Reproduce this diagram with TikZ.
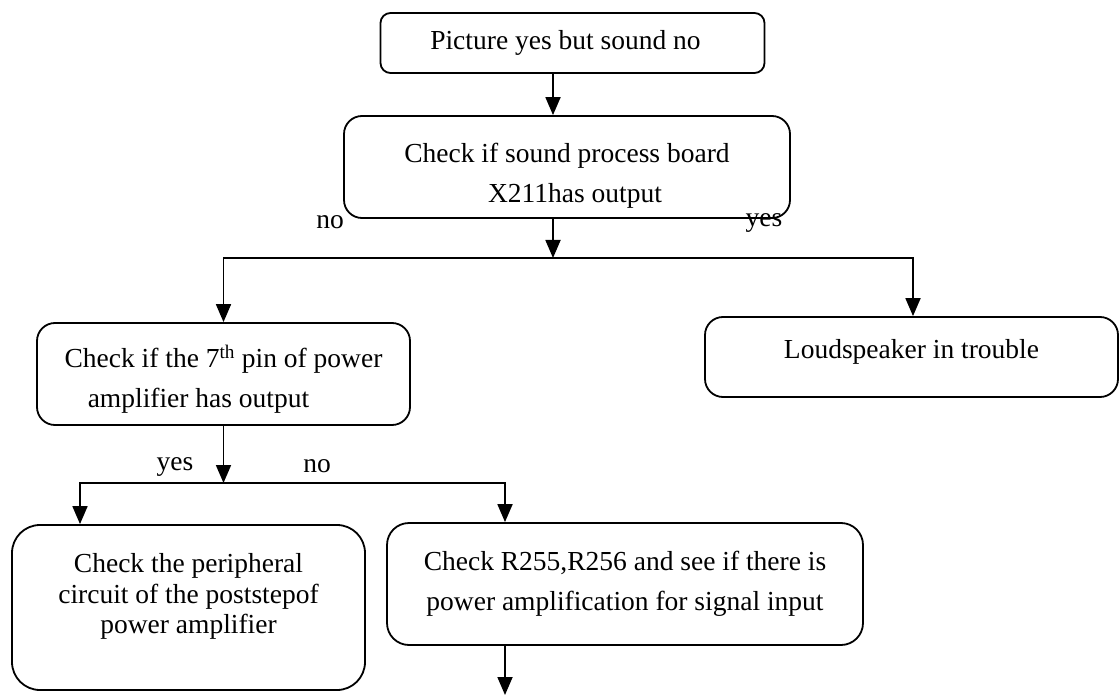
\documentclass[tikz,border=0pt]{standalone}
\usepackage{fontspec}
\setmainfont{Liberation Serif}
\usetikzlibrary{arrows.meta}
\begin{document}
\begin{tikzpicture}[x=1pt,y=-1pt,
  box/.style={draw=black, line width=1.8pt, inner sep=0pt},
  txt/.style={inner sep=0pt, align=center, font=\fontsize{27.5}{40}\selectfont},
  arr/.style={line width=1.8pt, -{Triangle[length=18pt,width=15pt]}},
  lbl/.style={inner sep=0pt, font=\fontsize{27.5}{33}\selectfont}]
\useasboundingbox (0,0) rectangle (1119,695);
\node[box, rounded corners=10pt, minimum width=384pt, minimum height=60pt] (b1) at (572.5,43) {};
\node[txt] (t1) at ([xshift=-7pt]b1.center) {Picture yes but sound no};
\node[box, rounded corners=18pt, minimum width=446pt, minimum height=102pt] (b2) at (567,167) {};
\node[txt] (t2) at ([yshift=-9pt]b2.center) {Check if sound process board\\ \hspace*{16pt}X211has output};
\node[box, rounded corners=18pt, minimum width=373pt, minimum height=102pt] (b3) at (223.5,374) {};
\node[txt] (t3) at ([yshift=-5pt]b3.center) {Check if the 7\textsuperscript{th} pin of power\\ amplifier has output\hspace*{50pt}};
\node[box, rounded corners=18pt, minimum width=413pt, minimum height=80pt] (b4) at (911.5,357) {};
\node[txt] (t4) at ([yshift=5pt]b4.center) {Loudspeaker in trouble};
\node[box, rounded corners=22pt, minimum width=476pt, minimum height=122pt] (b5) at (625,584) {};
\node[txt] (t5) at (b5.center) {Check R255,R256 and see if there is\\ power amplification for signal input};
\node[box, rounded corners=28pt, minimum width=353pt, minimum height=165pt] (b6) at (188.5,607.5) {};
\node[txt, font=\fontsize{27.5}{30.5}\selectfont] (t6) at ([yshift=11pt]b6.center) {Check the peripheral\\ circuit of the poststepof\\ power amplifier};

\coordinate (j1) at (553,258);
\coordinate (j2) at (223.5,483);
\coordinate (end) at (505,695);

\draw[arr] ([xshift=-19.5pt]b1.south) -- ([xshift=-19.5pt]b1.south |- b2.north);
\draw[arr] ([xshift=-14pt]b2.south) -- (j1);
\draw[arr] (j1) -| (b3.north);
\draw[arr] (j1) -| ([xshift=1.5pt]b4.north);
\draw[arr] (b3.south) -- (j2);
\draw[arr] (j2) -| ([xshift=-108.5pt]b6.north);
\draw[arr] (j2) -| ([xshift=-120pt]b5.north);
\draw[arr] ([xshift=-120pt]b5.south) -- (end);

\node[lbl] (no1) at (330,222) {no};
\node[lbl] (yes1) at (764,223) {yes};
\node[lbl] (yes2) at (175,467) {yes};
\node[lbl] (no2) at (317,466) {no};
\end{tikzpicture}
\end{document}
